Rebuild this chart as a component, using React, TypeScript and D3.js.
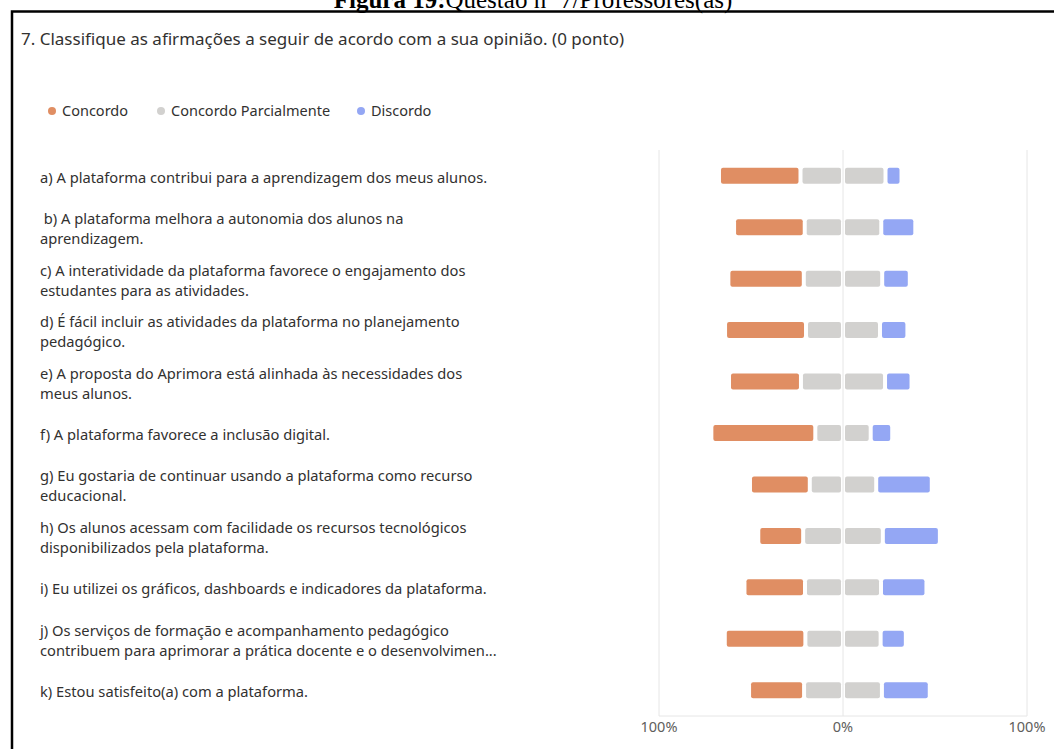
import * as d3 from "d3";
import React, { useEffect } from "react";

const categories = ["a", "b", "c", "d", "e", "f", "g", "h", "i", "j", "k"];

const labels = [
  ["a) A plataforma contribui para a aprendizagem dos meus alunos."],
  [" b) A plataforma melhora a autonomia dos alunos na", "aprendizagem."],
  ["c) A interatividade da plataforma favorece o engajamento dos", "estudantes para as atividades."],
  ["d) É fácil incluir as atividades da plataforma no planejamento", "pedagógico."],
  ["e) A proposta do Aprimora está alinhada às necessidades dos", "meus alunos."],
  ["f) A plataforma favorece a inclusão digital."],
  ["g) Eu gostaria de continuar usando a plataforma como recurso", "educacional."],
  ["h) Os alunos acessam com facilidade os recursos tecnológicos", "disponibilizados pela plataforma."],
  ["i) Eu utilizei os gráficos, dashboards e indicadores da plataforma."],
  ["j) Os serviços de formação e acompanhamento pedagógico", "contribuem para aprimorar a prática docente e o desenvolvimen..."],
  ["k) Estou satisfeito(a) com a plataforma."],
];

// percentages
const concordo = [44.3, 38.4, 41.0, 44.0, 39.1, 56.5, 32.5, 24.4, 32.9, 43.8, 29.9];
const parcial = [46.2, 41.6, 42.6, 40.2, 45.7, 30.1, 36.1, 43.3, 41.3, 40.9, 42.3];
const discordo = [8.7, 18.5, 15.0, 14.9, 14.4, 11.7, 30.2, 31.0, 24.7, 13.7, 26.0];

const legendItems = ["Concordo", "Concordo Parcialmente", "Discordo"];
const legendColors = ["#E08E63", "#D2D1CF", "#94A7F4"];
const legendX = [52, 161, 361];
const axisTicks = [-100, 0, 100];

const W = 1054;
const H = 749;
const font = "'Noto Sans', 'Open Sans', sans-serif";

export default function App() {
  useEffect(() => {
    document.body.style.margin = "0";
    document.body.style.overflow = "hidden";
  }, []);

  const x = d3.scaleLinear().domain([-100, 100]).range([659, 1027]);
  const y = d3.scaleBand<string>().domain(categories).range([150, 716]);
  const barH = 16;
  const gap = 2;

  const seg = (x0: number, x1: number) => {
    const a = x(x0) + gap;
    const b = x(x1) - gap;
    return { x: a, w: Math.max(0, b - a) };
  };

  return (
    <svg width={W} height={H} style={{ display: "block" }}>
      <rect width={W} height={H} fill="#fff" />
      {/* caption above the frame, mostly cut off */}
      <text x={533} y={8} textAnchor="middle" fontFamily="'Liberation Serif', 'Times New Roman', serif" fontSize={25} fill="#000">
        <tspan fontWeight="bold">Figura 19:</tspan>
        <tspan>Questão nº 7/Professores(as)</tspan>
      </text>
      <path d={`M12,${H + 10} L12,11.5 L${W + 10},11.5`} fill="none" stroke="#000" strokeWidth={2.5} />

      <text x={21} y={45} fontFamily={font} fontSize={17} fill="#323130">
        7. Classifique as afirmações a seguir de acordo com a sua opinião. (0 ponto)
      </text>

      {legendItems.map((name, i) => (
        <g key={name}>
          <circle cx={legendX[i]} cy={111} r={4} fill={legendColors[i]} />
          <text x={legendX[i] + 10} y={116} fontFamily={font} fontSize={14.5} fill="#323130">
            {name}
          </text>
        </g>
      ))}

      {/* grid */}
      {axisTicks.map((t) => (
        <line key={t} x1={x(t)} x2={x(t)} y1={150} y2={716} stroke="#E6E6E6" strokeWidth={1} />
      ))}
      <line x1={x(-100)} x2={x(100)} y1={716} y2={716} stroke="#E6E6E6" strokeWidth={1} />

      {categories.map((c, i) => {
        const cy = (y(c) ?? 0) + y.bandwidth() / 2;
        const top = cy - barH / 2;
        const p = parcial[i] / 2;
        const parts = [
          { ...seg(-p - concordo[i], -p), color: legendColors[0] },
          { ...seg(-p, 0), color: legendColors[1] },
          { ...seg(0, p), color: legendColors[1] },
          { ...seg(p, p + discordo[i]), color: legendColors[2] },
        ];
        const lines = labels[i];
        const first = cy + 2 - ((lines.length - 1) * 20) / 2;
        return (
          <g key={c}>
            {lines.map((ln, j) => (
              <text
                key={j}
                x={40}
                y={first + j * 20 + 5}
                fontFamily={font}
                fontSize={14.7}
                fill="#323130"
                style={{ whiteSpace: "pre" }}
              >
                {ln}
              </text>
            ))}
            {parts.map((s, j) => (
              <rect key={j} x={s.x} y={top} width={s.w} height={barH} rx={2} fill={s.color} />
            ))}
          </g>
        );
      })}

      {axisTicks.map((t) => (
        <text key={t} x={x(t)} y={732} textAnchor="middle" fontFamily={font} fontSize={14.5} fill="#605E5C">
          {`${Math.abs(t)}%`}
        </text>
      ))}
    </svg>
  );
}
